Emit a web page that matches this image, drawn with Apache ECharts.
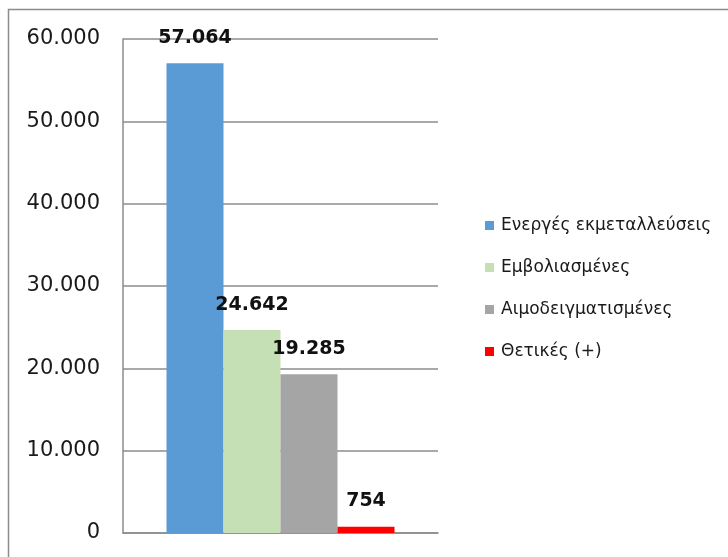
<!DOCTYPE html>
<html>
<head>
<meta charset="utf-8">
<script src="https://cdn.jsdelivr.net/npm/echarts@6/dist/echarts.min.js"></script>
<style>
  html, body { margin: 0; padding: 0; background: #fff; }
  #chart { width: 728px; height: 557px; }
</style>
</head>
<body>
<div id="chart"></div>
<script>
// Single category, four series side by side
const categories = [''];
const seriesNames = ['Ενεργές εκμεταλλεύσεις', 'Εμβολιασμένες', 'Αιμοδειγματισμένες', 'Θετικές (+)'];
const seriesValues = [57064, 24642, 19285, 754];
const seriesColors = ['#5B9BD5', '#C5E0B4', '#A5A5A5', '#FF0000'];
const yTicks = { min: 0, max: 60000, interval: 10000 };

// Greek-style thousands separator: 57064 -> "57.064"
function fmt(v) {
  return String(Math.round(v)).replace(/\B(?=(\d{3})+(?!\d))/g, '.');
}

const FONT = 'DejaVu Sans';

const chart = echarts.init(document.getElementById('chart'), null, { renderer: 'canvas' });

chart.setOption({
  animation: false,
  backgroundColor: '#ffffff',
  textStyle: { fontFamily: FONT },
  graphic: [{
    type: 'rect',
    shape: { x: 8.5, y: 9.5, width: 760, height: 600 },
    style: { fill: 'none', stroke: '#8c8c8c', lineWidth: 1.5 },
    silent: true
  }],
  grid: { left: 123, right: 290, top: 39, bottom: 24, containLabel: false },
  legend: {
    orient: 'vertical',
    left: 480,
    top: 211,
    itemWidth: 9,
    itemHeight: 9,
    itemGap: 23,
    icon: 'rect',
    data: seriesNames,
    textStyle: { fontFamily: FONT, fontSize: 17, lineHeight: 19, color: '#1a1a1a', padding: [0, 0, 0, 2] }
  },
  xAxis: {
    type: 'category',
    data: categories,
    axisLine: { show: true, lineStyle: { color: '#8c8c8c', width: 1.5 } },
    axisTick: { show: false },
    axisLabel: { show: false },
    splitLine: { show: false }
  },
  yAxis: {
    type: 'value',
    min: yTicks.min,
    max: yTicks.max,
    interval: yTicks.interval,
    axisLine: { show: true, lineStyle: { color: '#8c8c8c', width: 1.5 } },
    axisTick: { show: false },
    axisLabel: {
      fontFamily: FONT,
      fontSize: 21,
      color: '#1a1a1a',
      margin: 23,
      formatter: fmt
    },
    splitLine: { show: true, lineStyle: { color: '#8c8c8c', width: 1.5 } }
  },
  series: seriesNames.map((name, i) => ({
    name: name,
    type: 'bar',
    data: [seriesValues[i]],
    barWidth: 57,
    barGap: '0%',
    itemStyle: { color: seriesColors[i] },
    label: {
      show: true,
      position: 'top',
      distance: 16,
      fontFamily: FONT,
      fontSize: 19,
      fontWeight: 'bold',
      color: '#111',
      formatter: p => fmt(p.value)
    }
  }))
});
</script>
</body>
</html>
